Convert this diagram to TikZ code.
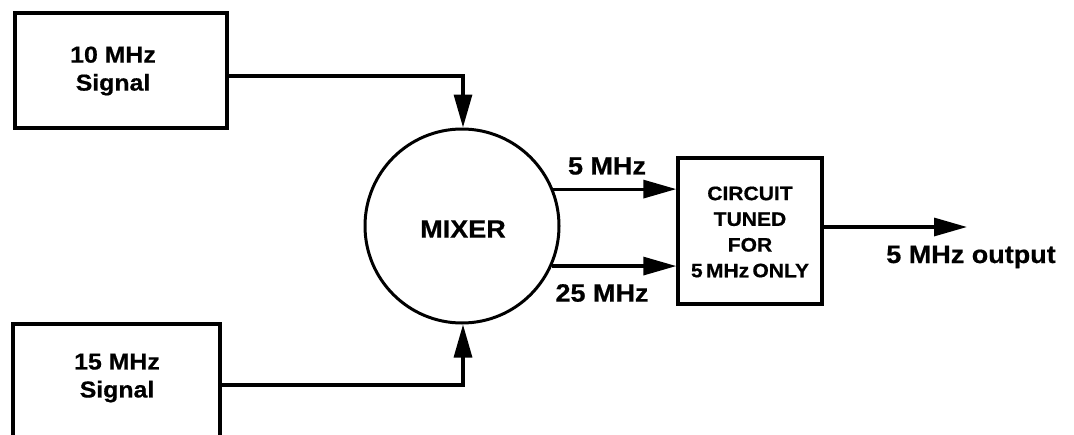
\documentclass[tikz,border=0pt]{standalone}
\usepackage{fontspec}
\newfontfamily\lab{Liberation Sans Bold}[FakeStretch=1.08,FakeBold=0.6]
\usetikzlibrary{arrows.meta}
\tikzset{
  blk/.style={draw, line width=3.4pt, inner sep=0pt},
  conn/.style={line width=3.2pt},
  arr/.style={conn, -{Triangle[length=33pt,width=18pt]}},
  txt/.style={align=center, inner sep=0pt, font=\lab\fontsize{23}{28}\selectfont},
  ctxt/.style={align=center, inner sep=0pt, font=\lab\fontsize{19.5}{25.7}\selectfont},
  btxt/.style={inner sep=0pt, font=\lab\fontsize{25}{30}\selectfont},
}
\begin{document}
\begin{tikzpicture}[x=1pt,y=-1pt]
\clip (0,0) rectangle (1074,434);
\fill[white] (0,0) rectangle (1074,434);
% boxes
\node[blk, minimum width=212pt, minimum height=115pt] (top) at (121,70.5) {};
\node[txt] (toplbl) at (113,71) {10 MHz\\Signal};
\node[blk, minimum width=207pt, minimum height=150pt] (bot) at (116.5,399) {};
\node[txt] (botlbl) at (117,378) {15 MHz\\Signal};
\node[draw, circle, line width=3pt, minimum size=194pt, inner sep=0pt] (mixer) at (462,226) {};
\node[btxt] (mixlbl) at (463,229) {MIXER};
\node[blk, minimum width=144pt, minimum height=146pt] (circ) at (750,231) {};
\node[ctxt] (circlbl) at (750,232) {CIRCUIT\\TUNED\\FOR\\5\,MHz\,ONLY};
\coordinate (out) at (967,227);
% connectors
\draw[arr] ([yshift=-5.5pt]top.east) -| ([xshift=1pt]mixer.north);
\draw[arr] ([yshift=14pt]bot.east) -| ([xshift=1pt]mixer.south);
\draw[arr] (mixer.22.4) -- (mixer.22.4 -| circ.west);
\draw[arr] (mixer.-24.4) -- (mixer.-24.4 -| circ.west);
\draw[arr] ([yshift=4pt]circ.east) -- (out);
% labels
\node[btxt] (l5) at (607,166) {5 MHz};
\node[btxt] (l25) at (602,293) {25 MHz};
\node[btxt] (lout) at (971,257) {5 MHz output};
\end{tikzpicture}
\end{document}
